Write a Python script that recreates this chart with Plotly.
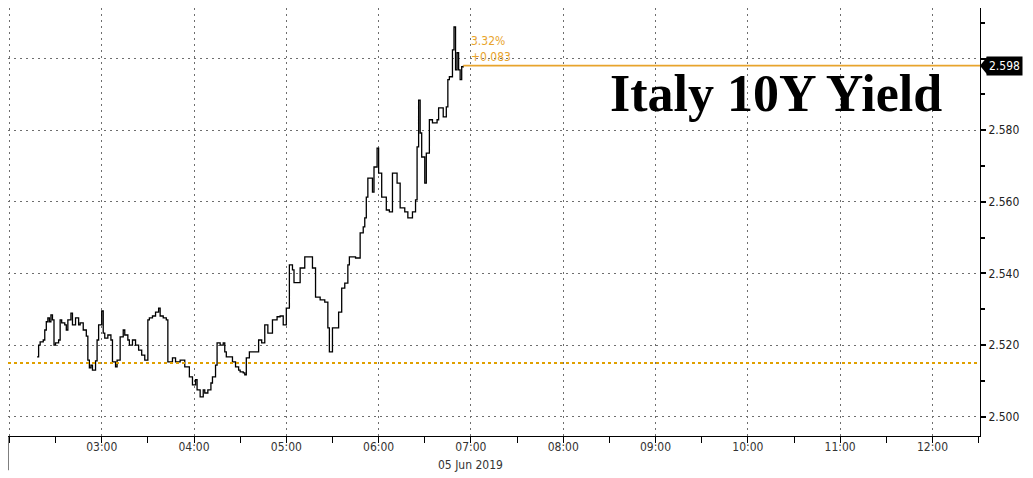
import pandas as pd
import plotly.graph_objects as go

# minutes after 02:00 on 05 Jun 2019, and the yield at each step
minutes = [18, 19, 20, 22, 23, 24, 25, 26, 27, 28, 29, 30, 32, 33, 34, 36, 37, 38,
           40, 41, 43, 45, 46, 48, 50, 51, 52, 53, 54, 56, 57, 58, 60, 61, 62, 64,
           66, 67, 69, 70, 72, 74, 75, 77, 78, 80, 82, 84, 86, 88, 90, 91, 93, 95,
           97, 98, 100, 102, 103, 106, 108, 111, 114, 117, 119, 121, 122, 124, 126,
           127, 129, 131, 132, 134, 135, 137, 139, 140, 141, 145, 147, 149, 150,
           152, 153, 154, 156, 160, 162, 164, 166, 168, 171, 174, 176, 178, 180,
           182, 184, 185, 187, 189, 192, 194, 197, 199, 202, 205, 207, 208, 210,
           214, 216, 218, 220, 221, 225, 228, 230, 231, 232, 233, 236, 237, 239,
           240, 242, 245, 247, 249, 252, 254, 257, 259, 262, 264, 265, 266, 267,
           268, 270, 271, 273, 275, 278, 279, 282, 284, 285, 286, 288, 289, 290,
           291, 292, 293, 294, 295]
yields = [2.5167, 2.5200, 2.5209, 2.5214, 2.5242, 2.5265, 2.5276, 2.5265, 2.5284,
          2.5270, 2.5200, 2.5206, 2.5214, 2.5270, 2.5262, 2.5256, 2.5242, 2.5270,
          2.5289, 2.5256, 2.5276, 2.5256, 2.5262, 2.5242, 2.5225, 2.5158, 2.5136,
          2.5144, 2.5130, 2.5156, 2.5214, 2.5256, 2.5295, 2.5233, 2.5219, 2.5228,
          2.5214, 2.5153, 2.5139, 2.5158, 2.5223, 2.5242, 2.5228, 2.5214, 2.5200,
          2.5214, 2.5200, 2.5186, 2.5172, 2.5158, 2.5270, 2.5276, 2.5281, 2.5292,
          2.5303, 2.5281, 2.5276, 2.5270, 2.5153, 2.5164, 2.5153, 2.5158, 2.5139,
          2.5111, 2.5089, 2.5103, 2.5075, 2.5055, 2.5075, 2.5066, 2.5075, 2.5094,
          2.5111, 2.5144, 2.5206, 2.5200, 2.5206, 2.5181, 2.5167, 2.5153, 2.5139,
          2.5130, 2.5125, 2.5122, 2.5117, 2.5164, 2.5181, 2.5181, 2.5214, 2.5206,
          2.5256, 2.5233, 2.5270, 2.5279, 2.5281, 2.5256, 2.5303, 2.5424, 2.5410,
          2.5374, 2.5374, 2.5415, 2.5446, 2.5446, 2.5415, 2.5334, 2.5326, 2.5320,
          2.5248, 2.5181, 2.5248, 2.5292, 2.5359, 2.5373, 2.5424, 2.5446, 2.5443,
          2.5513, 2.5530, 2.5555, 2.5613, 2.5666, 2.5627, 2.5697, 2.5750, 2.5680,
          2.5613, 2.5577, 2.5572, 2.5680, 2.5652, 2.5583, 2.5572, 2.5555, 2.5572,
          2.5605, 2.5753, 2.5884, 2.5792, 2.5725, 2.5652, 2.5736, 2.5829, 2.5820,
          2.5829, 2.5862, 2.5837, 2.5865, 2.5941, 2.5949, 2.6024, 2.6088, 2.5968,
          2.6016, 2.5968, 2.5941, 2.5977, 2.5980]

prev_close = 2.515
last_label = "2.598"
change_pct = "3.32%"
change_abs = "+0.083"
title_text = "Italy 10Y Yield"
date_label = "05 Jun 2019"

hour_ticks = ["02:00", "03:00", "04:00", "05:00", "06:00", "07:00",
              "08:00", "09:00", "10:00", "11:00", "12:00"]
y_ticks = [2.500, 2.520, 2.540, 2.560, 2.580, 2.600]
y_tick_text = ["2.500", "2.520", "2.540", "2.560", "2.580", ""]  # 2.600 sits under the price tag

base = pd.Timestamp("2019-06-05 02:00")
times = [base + pd.Timedelta(minutes=m) for m in minutes]
tick_vals = [pd.Timestamp(f"2019-06-05 {h}") for h in hour_ticks]
tick_text = [""] + hour_ticks[1:]

x_start = base - pd.Timedelta(seconds=54)
x_end = pd.Timestamp("2019-06-05 12:30:54")

ORANGE = "#e8a42c"
GRID = "#6e6e6e"
narrow = "Liberation Sans Narrow, DejaVu Sans Condensed, Arial Narrow, sans-serif"

fig = go.Figure()

fig.add_trace(go.Scatter(
    x=times, y=yields, mode="lines", line=dict(color="black", width=1.3, shape="hv"),
    hoverinfo="skip", showlegend=False
))

# last price guide line
fig.add_trace(go.Scatter(
    x=[times[-1], x_end], y=[yields[-1], yields[-1]], mode="lines",
    line=dict(color=ORANGE, width=1.6), hoverinfo="skip", showlegend=False
))

# previous close
fig.add_shape(type="line", xref="paper", x0=0, x1=1, yref="y", y0=prev_close, y1=prev_close,
              line=dict(color="#e0a000", width=2, dash="dot"))

# divider under the axis on the left
fig.add_shape(type="line", xref="paper", x0=0, x1=0, yref="paper", y0=0, y1=-0.08,
              line=dict(color="black", width=1))

# arrow of the price tag
fig.add_shape(type="path", xref="paper", yref="y",
              path=f"M 1.0,{yields[-1]} L {1 + 7 / 972},{yields[-1] + 0.0024} "
                   f"L {1 + 7 / 972},{yields[-1] - 0.0024} Z",
              fillcolor="black", line=dict(width=0))

fig.add_annotation(x=1, xref="paper", y=yields[-1], yref="y", text=last_label,
                   xanchor="left", xshift=6, showarrow=False, bgcolor="black",
                   font=dict(color="white", size=12, family=narrow), borderpad=2)

fig.add_annotation(x=times[-1], y=yields[-1], text=change_pct, xanchor="left", yanchor="middle",
                   xshift=6, yshift=25, showarrow=False,
                   font=dict(color=ORANGE, size=12, family=narrow))
fig.add_annotation(x=times[-1], y=yields[-1], text=change_abs, xanchor="left", yanchor="middle",
                   xshift=6, yshift=9, showarrow=False,
                   font=dict(color=ORANGE, size=12, family=narrow))

fig.add_annotation(x=0.790, xref="paper", y=0.801, yref="paper", text=f"<b>{title_text}</b>",
                   showarrow=False, xanchor="center", yanchor="middle",
                   font=dict(family="Liberation Serif, Times New Roman, serif", size=52, color="black"))

fig.add_annotation(x=tick_vals[5], y=0, yref="paper", yanchor="top", yshift=-20,
                   text=date_label, showarrow=False,
                   font=dict(family=narrow, size=12, color="#333"))

fig.update_xaxes(
    range=[x_start, x_end], tickvals=tick_vals, ticktext=tick_text,
    showgrid=True, gridcolor=GRID, griddash="2px,4px", gridwidth=1,
    showline=True, linecolor="black", linewidth=1, ticks="",
    tickfont=dict(family=narrow, size=12, color="#333"),
    minor=dict(dtick=30 * 60 * 1000, tick0=base, ticks="outside", ticklen=6,
               tickcolor="black", showgrid=False),
    zeroline=False
)
fig.update_yaxes(
    range=[2.4946, 2.6141], side="right", tickvals=y_ticks, ticktext=y_tick_text,
    showgrid=True, gridcolor=GRID, griddash="2px,4px", gridwidth=1,
    showline=True, linecolor="black", linewidth=1,
    ticks="outside", ticklen=5, tickwidth=2, tickcolor="black",
    tickfont=dict(family=narrow, size=12, color="#222"),
    minor=dict(dtick=0.01, ticks="outside", ticklen=4, tickcolor="black", showgrid=False),
    zeroline=False
)

# the page adds an 8px body margin, so the plot starts flush at the div edge
fig.update_layout(
    width=1033, height=478, margin=dict(l=0, r=61, t=0, b=50),
    plot_bgcolor="white", paper_bgcolor="white", showlegend=False
)

fig.write_html("out.html")
